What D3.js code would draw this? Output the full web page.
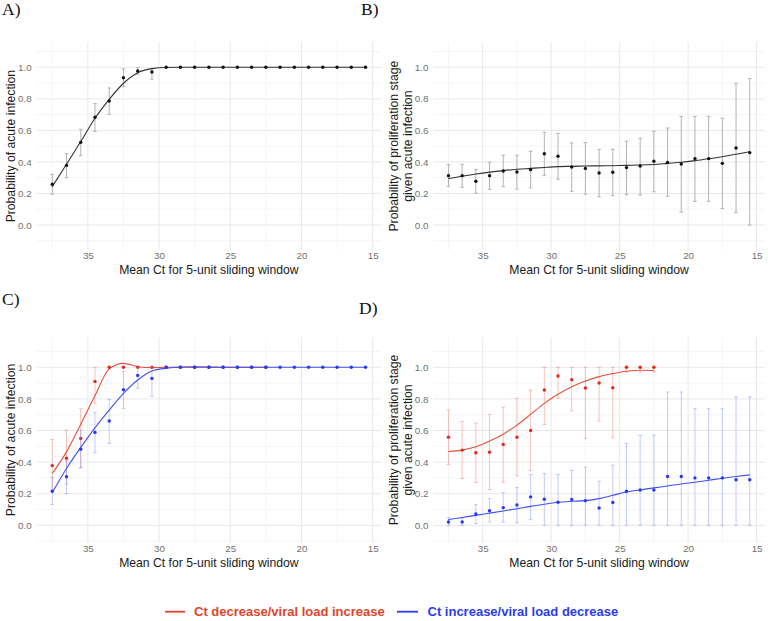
<!DOCTYPE html>
<html>
<head>
<meta charset="utf-8">
<script src="https://cdn.jsdelivr.net/npm/d3@7"></script>
<style>
  html, body { margin: 0; padding: 0; background: #fff; }
  svg { display: block; }
</style>
</head>
<body>
<svg id="chart" width="768" height="621"></svg>
<script>
// ---------------- DATA ----------------
const ct = [37.5,36.5,35.5,34.5,33.5,32.5,31.5,30.5,29.5,28.5,27.5,26.5,25.5,24.5,23.5,22.5,21.5,20.5,19.5,18.5,17.5,16.5,15.5];
const ctRed = [37.5,36.5,35.5,34.5,33.5,32.5,31.5,30.5,29.5,28.5,27.5,26.5,25.5,24.5,23.5,22.5];

const xTicks = [35,30,25,20,15];
const yTicks = [0.0,0.2,0.4,0.6,0.8,1.0];

// Panel A
const aProb  = [0.258,0.378,0.524,0.683,0.786,0.934,0.977,0.970,1,1,1,1,1,1,1,1,1,1,1,1,1,1,1];
const aLower = [0.195,0.300,0.440,0.594,0.702,0.877,0.956,0.925,1,1,1,1,1,1,1,1,1,1,1,1,1,1,1];
const aUpper = [0.321,0.452,0.607,0.770,0.869,0.990,0.998,0.990,1,1,1,1,1,1,1,1,1,1,1,1,1,1,1];
const aFit   = [0.243,0.385,0.529,0.677,0.797,0.899,0.966,0.992,0.999,1,1,1,1,1,1,1,1,1,1,1,1,1,1];

// Panel B
const bProb  = [0.313,0.313,0.277,0.313,0.342,0.336,0.351,0.452,0.436,0.368,0.359,0.330,0.334,0.364,0.374,0.404,0.397,0.387,0.421,0.421,0.391,0.488,0.459];
const bLower = [0.245,0.239,0.201,0.226,0.243,0.228,0.235,0.315,0.290,0.214,0.195,0.178,0.186,0.192,0.190,0.211,0.182,0.082,0.150,0.150,0.104,0.078,0.000];
const bUpper = [0.383,0.385,0.353,0.397,0.442,0.442,0.467,0.588,0.581,0.520,0.522,0.480,0.480,0.531,0.550,0.594,0.615,0.689,0.689,0.689,0.677,0.899,0.928];
const bFit   = [0.294,0.309,0.323,0.335,0.345,0.353,0.359,0.365,0.370,0.372,0.374,0.375,0.376,0.378,0.380,0.384,0.391,0.398,0.408,0.420,0.433,0.449,0.465];

// Panel C
const cRedProb  = [0.378,0.425,0.550,0.911,1,1,1,1,1,1,1,1,1,1,1,1];
const cRedLower = [0.220,0.260,0.364,0.772,1,1,1,1,1,1,1,1,1,1,1,1];
const cRedUpper = [0.543,0.603,0.738,1.000,1,1,1,1,1,1,1,1,1,1,1,1];
const cRedFit   = [0.328,0.465,0.640,0.820,0.990,1.025,1.004,0.998,1,1,1,1,1,1,1,1];
const cBlueProb  = [0.216,0.307,0.482,0.588,0.660,0.858,0.949,0.930,1,1,1,1,1,1,1,1,1,1,1,1,1,1,1];
const cBlueLower = [0.131,0.201,0.364,0.461,0.518,0.740,0.867,0.816,1,1,1,1,1,1,1,1,1,1,1,1,1,1,1];
const cBlueUpper = [0.302,0.412,0.603,0.715,0.797,0.975,1.000,1.000,1,1,1,1,1,1,1,1,1,1,1,1,1,1,1];
const cBlueFit   = [0.207,0.360,0.493,0.617,0.729,0.835,0.920,0.977,0.994,1.002,1.003,1.002,1,1,1,1,1,1,1,1,1,1,1];

// Panel D
const dRedProb  = [0.558,0.476,0.459,0.463,0.512,0.558,0.600,0.856,0.945,0.922,0.869,0.901,0.871,1,1,1];
const dRedLower = [0.385,0.296,0.271,0.226,0.273,0.313,0.347,0.638,0.803,0.725,0.550,0.660,0.554,0.970,0.970,0.970];
const dRedUpper = [0.729,0.658,0.647,0.702,0.748,0.805,0.856,1,1,1,1,1,1,1,1,1];
const dRedFit   = [0.467,0.476,0.497,0.533,0.577,0.634,0.702,0.772,0.829,0.877,0.913,0.941,0.960,0.975,0.981,0.980];
const dBlueProb  = [0.021,0.021,0.072,0.093,0.112,0.129,0.180,0.165,0.146,0.163,0.156,0.110,0.144,0.216,0.224,0.224,0.309,0.309,0.300,0.300,0.300,0.288,0.288];
const dBlueLower = [0,0,0.011,0.021,0.021,0.017,0.036,0,0,0,0,0,0,0,0,0,0,0,0,0,0,0,0];
const dBlueUpper = [0.049,0.045,0.131,0.169,0.207,0.239,0.321,0.328,0.321,0.347,0.366,0.279,0.381,0.518,0.569,0.569,0.844,0.844,0.738,0.738,0.738,0.814,0.814];
const dBlueFit   = [0.036,0.050,0.063,0.077,0.091,0.105,0.120,0.133,0.146,0.152,0.156,0.169,0.190,0.211,0.224,0.237,0.249,0.262,0.273,0.285,0.298,0.309,0.319];

const xTitle = "Mean Ct for 5-unit sliding window";
const yTitleAC = ["Probability of acute infection"];
const yTitleBD = ["Probability of proliferation stage", "given acute infection"];
const legendLabels = ["Ct decrease/viral load increase", "Ct increase/viral load decrease"];

// ---------------- STYLE ----------------
const COL = {
  black: {pt: "#111111", line: "#333333", err: "#b3b3b3", errOp: 1},
  red:   {pt: "#E3261C", line: "#E2503A", err: "#EC7A6C", errOp: 0.45},
  blue:  {pt: "#2339F5", line: "#4050F0", err: "#6F7CF5", errOp: 0.4}
};
const legendColors = ["#E0452C", "#2B3CF0"];

const mk = (xs, p, lo, hi, fit, col) => ({xs, p, lo, hi, fit, col});

const panels = [
  {label: "A)", lx: 2, ly: 15, xr: [36.6, 381.2], yr: [250.2, 42.1], yd: [-0.16, 1.16], ytitle: yTitleAC, ytx: 11,
   series: [mk(ct, aProb, aLower, aUpper, aFit, COL.black)]},
  {label: "B)", lx: 361, ly: 15, xr: [433.4, 764.8], yr: [250.2, 42.1], yd: [-0.16, 1.16], ytitle: yTitleBD, ytx: 394,
   series: [mk(ct, bProb, bLower, bUpper, bFit, COL.black)]},
  {label: "C)", lx: 2, ly: 305, xr: [36.6, 381.2], yr: [542.7, 337.3], yd: [-0.11, 1.19], ytitle: yTitleAC, ytx: 11,
   series: [mk(ctRed, cRedProb, cRedLower, cRedUpper, cRedFit, COL.red), mk(ct, cBlueProb, cBlueLower, cBlueUpper, cBlueFit, COL.blue)]},
  {label: "D)", lx: 359, ly: 314, xr: [433.4, 764.8], yr: [542.7, 337.3], yd: [-0.11, 1.19], ytitle: yTitleBD, ytx: 394,
   series: [mk(ctRed, dRedProb, dRedLower, dRedUpper, dRedFit, COL.red), mk(ct, dBlueProb, dBlueLower, dBlueUpper, dBlueFit, COL.blue)]}
];

const svg = d3.select("#chart");
svg.append("rect").attr("width", 768).attr("height", 621).attr("fill", "#fff");
const SANS = "'Liberation Sans', Arial, Helvetica, sans-serif";

panels.forEach(P => {
  const x = d3.scaleLinear().domain([38.6, 14.4]).range(P.xr);
  const y = d3.scaleLinear().domain(P.yd).range(P.yr);
  const g = svg.append("g");
  const [x0, x1] = P.xr, [yb, yt] = P.yr;

  // minor grid
  const yMinor = d3.range(-0.1, 1.15, 0.2).filter(v => v > P.yd[0] && v < P.yd[1]);
  const xMinor = [37.5, 32.5, 27.5, 22.5, 17.5];
  g.selectAll(".ymin").data(yMinor).join("line")
    .attr("x1", x0).attr("x2", x1).attr("y1", d => y(d)).attr("y2", d => y(d))
    .attr("stroke", "#f2f2f2").attr("stroke-width", 0.8);
  g.selectAll(".xmin").data(xMinor).join("line")
    .attr("y1", yb).attr("y2", yt).attr("x1", d => x(d)).attr("x2", d => x(d))
    .attr("stroke", "#f2f2f2").attr("stroke-width", 0.8);
  // major grid
  g.selectAll(".ymaj").data(yTicks).join("line")
    .attr("x1", x0).attr("x2", x1).attr("y1", d => y(d)).attr("y2", d => y(d))
    .attr("stroke", "#e8e8e8").attr("stroke-width", 1);
  g.selectAll(".xmaj").data(xTicks).join("line")
    .attr("y1", yb).attr("y2", yt).attr("x1", d => x(d)).attr("x2", d => x(d))
    .attr("stroke", "#e8e8e8").attr("stroke-width", 1);

  // axes
  const ax = g.append("g").attr("transform", `translate(0,${yb})`)
    .call(d3.axisBottom(x).tickValues(xTicks).tickSize(0).tickPadding(2).tickFormat(d3.format("d")));
  const ay = g.append("g").attr("transform", `translate(${x0},0)`)
    .call(d3.axisLeft(y).tickValues(yTicks).tickSize(0).tickPadding(5).tickFormat(d3.format(".1f")));
  [ax, ay].forEach(a => {
    a.select(".domain").remove();
    a.selectAll("text").attr("font-family", SANS).attr("font-size", 9.8).attr("fill", "#707070");
  });

  // axis titles
  g.append("text").attr("x", (x0 + x1) / 2).attr("y", yb + 24)
    .attr("text-anchor", "middle").attr("font-family", SANS).attr("font-size", 12.2).attr("fill", "#1a1a1a")
    .text(xTitle);
  const yc = (yb + yt) / 2;
  P.ytitle.forEach((t, i) => {
    g.append("text")
      .attr("transform", `translate(${P.ytx + i * 14},${yc}) rotate(-90)`)
      .attr("text-anchor", "middle").attr("dy", "0.35em")
      .attr("font-family", SANS).attr("font-size", 12.2).attr("fill", "#1a1a1a")
      .text(t);
  });

  // panel label
  svg.append("text").attr("x", P.lx).attr("y", P.ly)
    .attr("font-family", "'Liberation Serif', 'Times New Roman', serif").attr("font-size", 17.5).attr("fill", "#111")
    .text(P.label);

  // series
  const line = d3.line().x(d => x(d.c)).y(d => y(d.f)).curve(d3.curveMonotoneX);
  P.series.forEach(S => {
    const rows = S.xs.map((c, i) => ({c, p: S.p[i], lo: S.lo[i], hi: S.hi[i], f: S.fit[i]}));
    const eb = rows.filter(r => r.hi - r.lo > 0.001);
    const eg = g.append("g").attr("stroke", S.col.err).attr("stroke-opacity", S.col.errOp).attr("stroke-width", 1);
    eg.selectAll(".v").data(eb).join("line")
      .attr("x1", r => x(r.c)).attr("x2", r => x(r.c)).attr("y1", r => y(r.lo)).attr("y2", r => y(r.hi));
    eg.selectAll(".t").data(eb).join("line")
      .attr("x1", r => x(r.c) - 1.8).attr("x2", r => x(r.c) + 1.8).attr("y1", r => y(r.hi)).attr("y2", r => y(r.hi));
    eg.selectAll(".b").data(eb).join("line")
      .attr("x1", r => x(r.c) - 1.8).attr("x2", r => x(r.c) + 1.8).attr("y1", r => y(r.lo)).attr("y2", r => y(r.lo));
    g.append("path").datum(rows).attr("d", line)
      .attr("fill", "none").attr("stroke", S.col.line).attr("stroke-width", 1.1);
    g.selectAll(null).data(rows).join("circle")
      .attr("cx", r => x(r.c)).attr("cy", r => y(r.p)).attr("r", 1.7)
      .attr("fill", S.col.pt);
  });
});

// legend
const lg = svg.append("g");
const legendItems = [
  {x1: 165, x2: 185, tx: 194, label: legendLabels[0], color: legendColors[0]},
  {x1: 397, x2: 418, tx: 427.5, label: legendLabels[1], color: legendColors[1]}
];
legendItems.forEach(it => {
  lg.append("line").attr("x1", it.x1).attr("x2", it.x2).attr("y1", 611.7).attr("y2", 611.7)
    .attr("stroke", it.color).attr("stroke-width", 1.8);
  lg.append("text").attr("x", it.tx).attr("y", 611.7).attr("dy", "0.36em")
    .attr("font-family", SANS).attr("font-weight", "bold").attr("font-size", 13).attr("fill", it.color)
    .text(it.label);
});
</script>
</body>
</html>
